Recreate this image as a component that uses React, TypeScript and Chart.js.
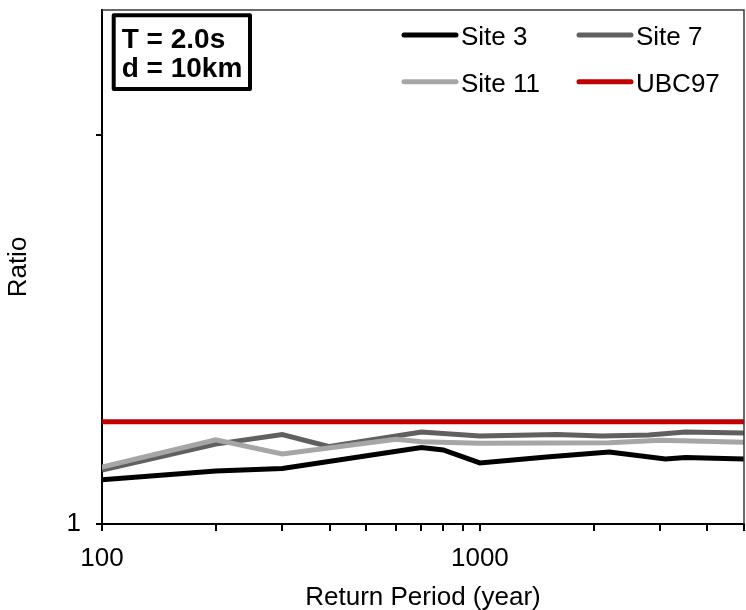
import React, { useEffect, useRef } from 'react';
import { Chart, registerables } from 'chart.js';

Chart.register(...registerables);

const FONT = '"Liberation Sans", Arial, Helvetica, sans-serif';

// ---- data ----
const seriesNames = ['Site 3', 'Site 7', 'Site 11', 'UBC97'];
const seriesColors = ['#000000', '#606060', '#a6a6a6', '#c00000'];

const site3Periods = [100, 200, 300, 700, 800, 1000, 1500, 2200, 3100, 3500, 5000];
const site3Ratios = [1.082, 1.099, 1.104, 1.146, 1.141, 1.115, 1.127, 1.137, 1.123, 1.126, 1.123];

const site7Periods = [100, 200, 300, 400, 700, 1000, 1600, 2100, 2800, 3500, 5000];
const site7Ratios = [1.101, 1.153, 1.173, 1.148, 1.178, 1.17, 1.173, 1.17, 1.172, 1.178, 1.176];

const site11Periods = [100, 200, 300, 600, 700, 1000, 2200, 3000, 5000];
const site11Ratios = [1.107, 1.162, 1.133, 1.163, 1.158, 1.155, 1.156, 1.161, 1.157];

const ubcPeriods = [100, 5000];
const ubcRatios = [1.2, 1.2];

const xTickValues = [100, 200, 300, 400, 500, 600, 700, 800, 900, 1000, 2000, 3000, 4000, 5000];
const xTickLabels = ['100', '', '', '', '', '', '', '', '', '1000', '', '', '', ''];
const yTickValues = [1, 2];
const yTickLabels = ['1', ''];

const xTitle = 'Return Period (year)';
const yTitle = 'Ratio';
const annotationLines = ['T = 2.0s', 'd = 10km'];

const toPoints = (xs: number[], ys: number[]) => xs.map((x, i) => ({ x, y: ys[i] }));

const zeroPad = (s: any) => {
  s.paddingTop = 0;
  s.paddingBottom = 0;
  s.paddingLeft = 0;
  s.paddingRight = 0;
};

const decorPlugin = {
  id: 'decor',
  afterDraw(chart: any) {
    const { ctx, chartArea } = chart;
    const { left, top, right, bottom } = chartArea;
    ctx.save();
    // frame (top + right)
    ctx.strokeStyle = '#3a3a3a';
    ctx.lineWidth = 1.5;
    ctx.beginPath();
    ctx.moveTo(left, top);
    ctx.lineTo(right, top);
    ctx.lineTo(right, bottom);
    ctx.stroke();

    // legend (2 columns)
    const ds = chart.data.datasets;
    const rowY = [top + 25, top + 71.7];
    const colX = [left + 302, left + 477];
    ctx.font = `26px ${FONT}`;
    ctx.textBaseline = 'alphabetic';
    ctx.textAlign = 'left';
    ds.forEach((d: any, i: number) => {
      const r = Math.floor(i / 2);
      const c = i % 2;
      const y = rowY[r];
      const x0 = colX[c];
      ctx.strokeStyle = d.borderColor;
      ctx.lineWidth = 5;
      ctx.lineCap = 'round';
      ctx.beginPath();
      ctx.moveTo(x0, y);
      ctx.lineTo(x0 + 52, y);
      ctx.stroke();
      ctx.fillStyle = '#000';
      ctx.fillText(d.label, x0 + 57, y + 10);
    });

    // annotation box
    const bx = left + 11.7;
    const by = top + 5.3;
    const bw = 136.3;
    const bh = 73.7;
    ctx.fillStyle = '#fff';
    ctx.fillRect(bx, by, bw, bh);
    ctx.fillStyle = '#000';
    ctx.font = `bold 28px ${FONT}`;
    ctx.fillText(annotationLines[0], bx + 8, top + 37.7);
    ctx.fillText(annotationLines[1], bx + 8, top + 66.7);
    ctx.strokeStyle = '#000';
    ctx.lineWidth = 4;
    ctx.lineCap = 'butt';
    ctx.lineJoin = 'round';
    ctx.strokeRect(bx, by, bw, bh);
    ctx.restore();
  },
};

export default function App() {
  const canvasRef = useRef<HTMLCanvasElement | null>(null);

  useEffect(() => {
    if (!canvasRef.current) return;
    const mk = (i: number, xs: number[], ys: number[], order: number) => ({
      label: seriesNames[i],
      data: toPoints(xs, ys),
      borderColor: seriesColors[i],
      backgroundColor: seriesColors[i],
      borderWidth: 5,
      pointRadius: 0,
      tension: 0,
      fill: false,
      order,
    });
    const chart = new Chart(canvasRef.current, {
      type: 'line',
      data: {
        datasets: [
          mk(0, site3Periods, site3Ratios, 2),
          mk(1, site7Periods, site7Ratios, 1),
          mk(2, site11Periods, site11Ratios, 0),
          mk(3, ubcPeriods, ubcRatios, 3),
        ],
      },
      options: {
        responsive: false,
        animation: false,
        events: [],
        layout: { padding: { top: 10, right: 2, left: 0, bottom: 0 } },
        plugins: { legend: { display: false }, tooltip: { enabled: false }, title: { display: false } },
        scales: {
          x: {
            type: 'logarithmic',
            min: 100,
            max: 5000,
            afterBuildTicks: (s: any) => {
              s.ticks = xTickValues.map((v) => ({ value: v }));
            },
            afterFit: (s: any) => {
              s.height = 86;
              zeroPad(s);
            },
            ticks: {
              autoSkip: false,
              maxRotation: 0,
              color: '#000',
              padding: 12,
              font: { family: FONT, size: 26 },
              callback: (v: any) => {
                const idx = xTickValues.indexOf(Number(v));
                return idx >= 0 ? xTickLabels[idx] : '';
              },
            },
            grid: { drawOnChartArea: false, drawTicks: true, tickLength: 7, color: '#000', lineWidth: 2 },
            border: { display: true, color: '#000', width: 2 },
            title: {
              display: true,
              text: xTitle,
              color: '#000',
              font: { family: FONT, size: 26 },
              padding: { top: 0, bottom: -3 },
            },
          },
          y: {
            type: 'logarithmic',
            min: 1,
            max: 2.5,
            afterBuildTicks: (s: any) => {
              s.ticks = yTickValues.map((v) => ({ value: v }));
            },
            afterFit: (s: any) => {
              s.width = 102;
              zeroPad(s);
            },
            ticks: {
              autoSkip: false,
              color: '#000',
              padding: 15,
              font: { family: FONT, size: 26 },
              callback: (v: any) => {
                const idx = yTickValues.indexOf(Number(v));
                return idx >= 0 ? yTickLabels[idx] : '';
              },
            },
            grid: { drawOnChartArea: false, drawTicks: true, tickLength: 6, color: '#000', lineWidth: 2 },
            border: { display: true, color: '#000', width: 2 },
            title: {
              display: true,
              text: yTitle,
              color: '#000',
              font: { family: FONT, size: 26 },
              padding: { top: 3, bottom: 0 },
            },
          },
        },
      },
      plugins: [decorPlugin],
    } as any);
    return () => chart.destroy();
  }, []);

  return (
    <div style={{ position: 'fixed', left: 0, top: 0, width: 746, height: 610, background: '#fff' }}>
      <canvas ref={canvasRef} width={746} height={610} style={{ display: 'block' }} />
    </div>
  );
}
